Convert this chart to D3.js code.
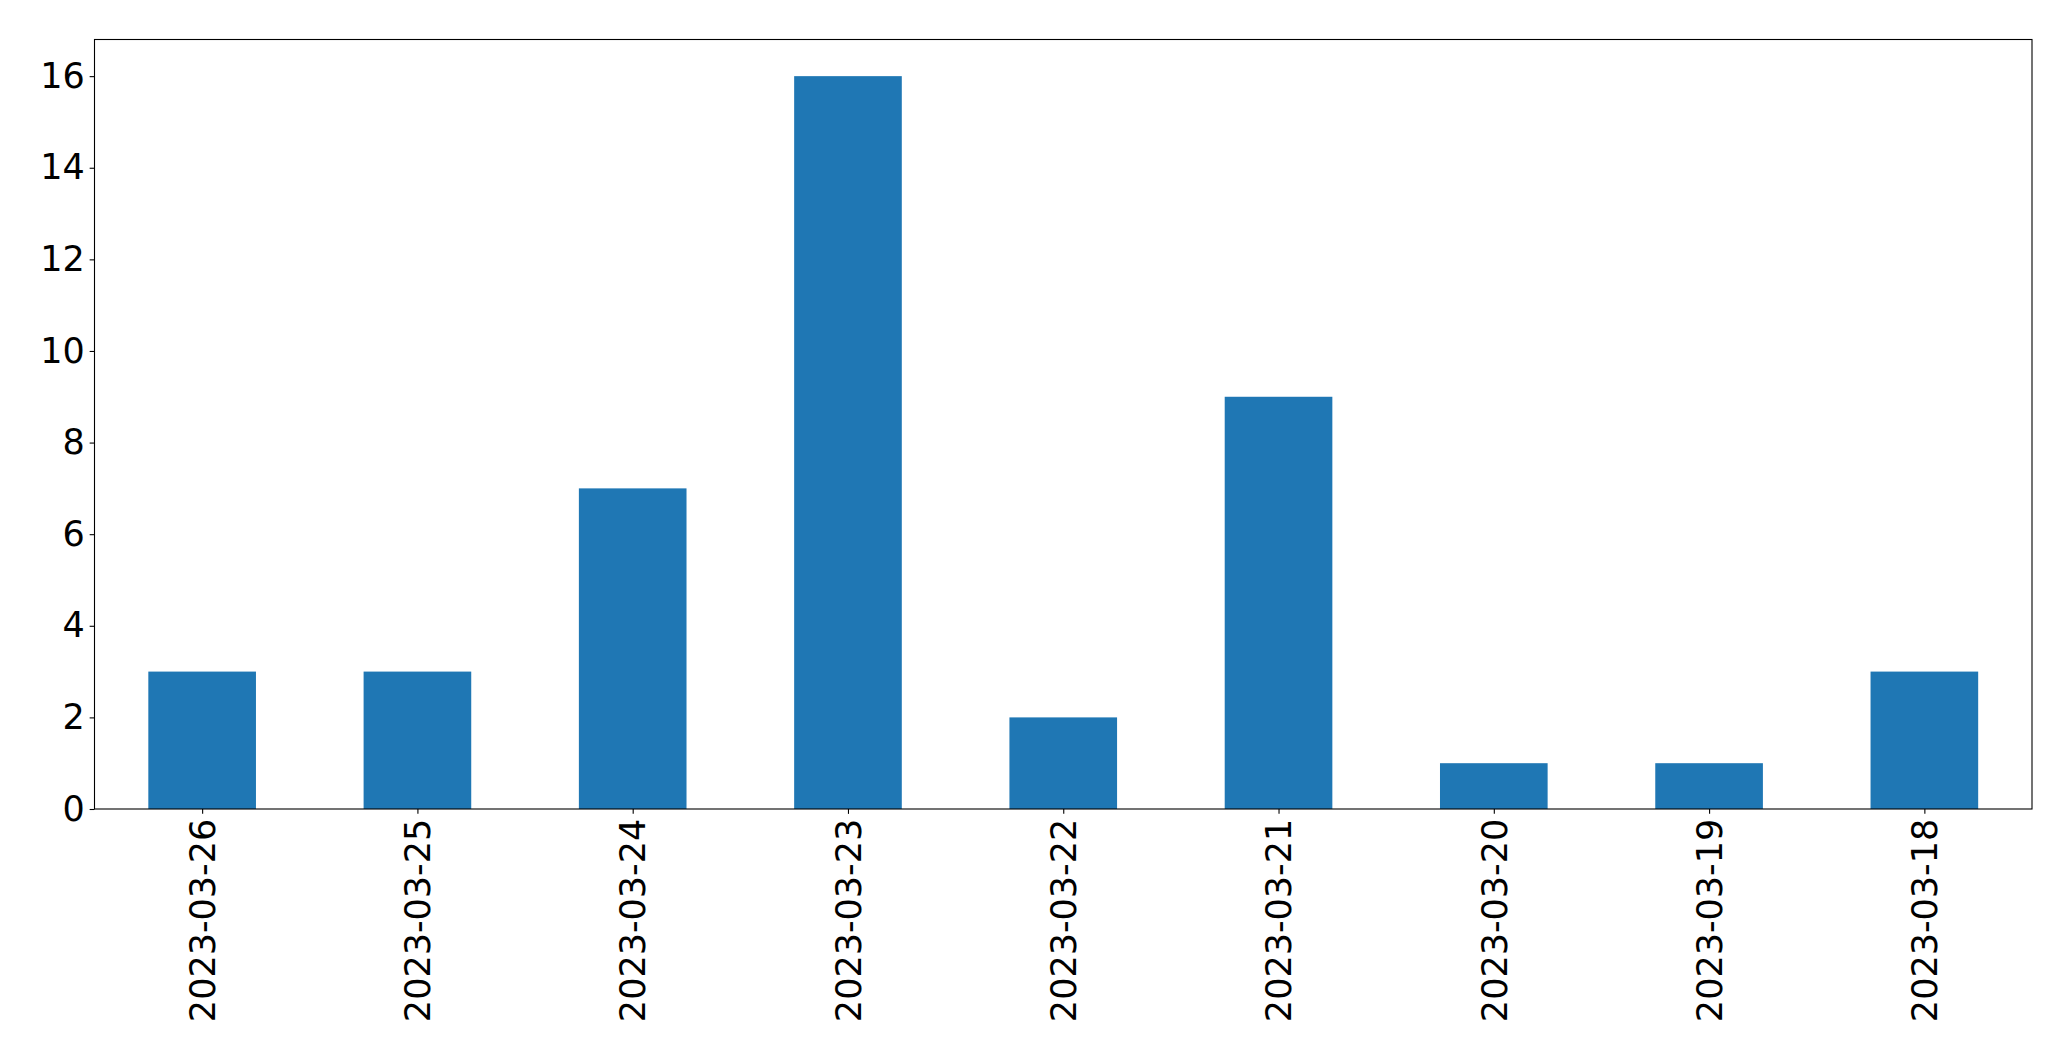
<!DOCTYPE html>
<html>
<head>
<meta charset="utf-8">
<script src="https://cdn.jsdelivr.net/npm/d3@7"></script>
<style>
  html, body { margin: 0; padding: 0; background: #fff; }
  svg { display: block; }
  text { font-family: "DejaVu Sans", sans-serif; fill: #000; }
</style>
</head>
<body>
<svg id="chart" width="2071" height="1061"></svg>
<script>
const categories = ["2023-03-26","2023-03-25","2023-03-24","2023-03-23","2023-03-22","2023-03-21","2023-03-20","2023-03-19","2023-03-18"];
const values = [3, 3, 7, 16, 2, 9, 1, 1, 3];
const yTicks = [0, 2, 4, 6, 8, 10, 12, 14, 16];

(function () {
const W = 2071, H = 1061;
const plotLeft = 94.5, plotRight = 2032, plotTop = 39.5, plotBottom = 809;
const fontSize = 35;
const tickLen = 4.86, pad = 4.86;

const svg = d3.select("#chart");

const x = d3.scaleLinear().domain([-0.5, categories.length - 0.5]).range([plotLeft, plotRight]);
const y = d3.scaleLinear().domain([0, d3.max(values) * 1.05]).range([plotBottom, plotTop]);
const barW = x(0.5) - x(0);

// bars
svg.append("g").selectAll("rect").data(values).join("rect")
  .attr("x", (d, i) => x(i) - barW / 2)
  .attr("width", barW)
  .attr("y", d => y(d))
  .attr("height", d => y(0) - y(d))
  .attr("fill", "#1f77b4");

// y axis
const yAxis = svg.append("g").attr("transform", `translate(${plotLeft},0)`)
  .call(d3.axisLeft(y).tickValues(yTicks).tickSize(tickLen).tickPadding(pad).tickFormat(d3.format("d")));
yAxis.select(".domain").remove();
yAxis.selectAll("line").attr("stroke", "#000").attr("stroke-width", 1.1);
yAxis.selectAll("text").attr("font-size", fontSize).attr("font-family", "DejaVu Sans").attr("fill", "#000");

// x axis
const xAxis = svg.append("g").attr("transform", `translate(0,${plotBottom})`)
  .call(d3.axisBottom(x).tickValues(d3.range(categories.length)).tickSize(tickLen).tickFormat(i => categories[i]));
xAxis.select(".domain").remove();
xAxis.selectAll("line").attr("stroke", "#000").attr("stroke-width", 1.1);
xAxis.selectAll("text")
  .attr("font-size", fontSize).attr("font-family", "DejaVu Sans").attr("fill", "#000")
  .attr("text-anchor", "end")
  .attr("transform", `translate(0,${tickLen + pad}) rotate(-90)`)
  .attr("x", 0).attr("y", 0).attr("dy", "0.35em");

// frame
svg.append("rect")
  .attr("x", plotLeft).attr("y", plotTop)
  .attr("width", plotRight - plotLeft).attr("height", plotBottom - plotTop)
  .attr("fill", "none").attr("stroke", "#000").attr("stroke-width", 1.1);
})();
</script>
</body>
</html>
